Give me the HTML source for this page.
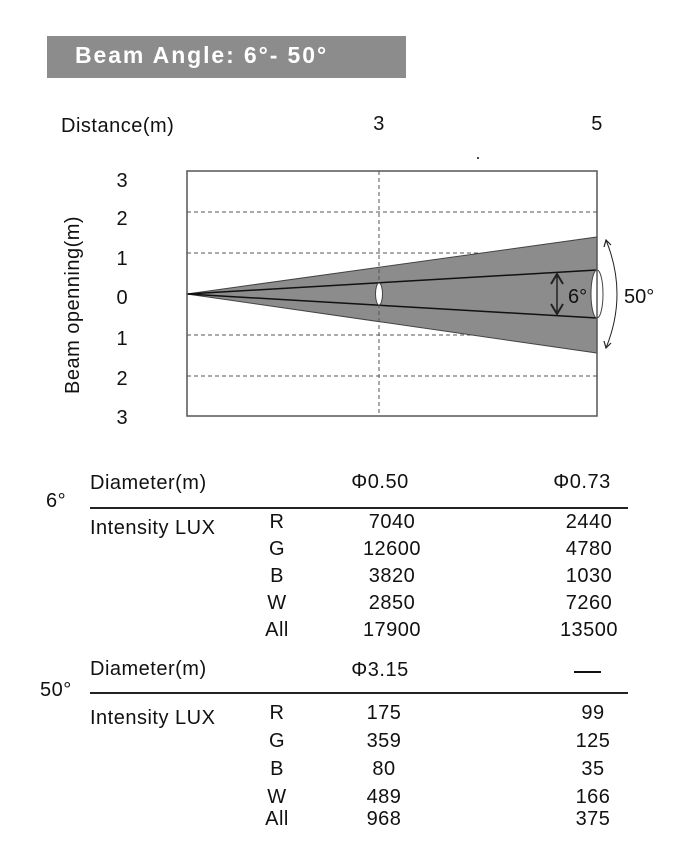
<!DOCTYPE html>
<html><head><style>
body{margin:0;width:681px;height:860px;background:#fff;font-family:"Liberation Sans",sans-serif;color:#111;position:relative;overflow:hidden}
.t{position:absolute;font-size:20px;letter-spacing:0.5px;white-space:nowrap}
.c{transform:translateX(-50%)}
</style></head><body>
<div style="position:absolute;left:47px;top:36px;width:359px;height:42px;background:#8c8c8c"></div>
<div class="t" style="left:75px;top:42px;color:#fff;font-weight:bold;font-size:23px;letter-spacing:1.9px">Beam Angle: 6°- 50°</div>
<div class="t" style="left:61px;top:115px">Distance(m)</div>
<div class="t c" style="left:379px;top:113px">3</div>
<div class="t c" style="left:597px;top:113px">5</div>
<div class="t" style="left:62px;top:394px;transform:rotate(-90deg);transform-origin:0 0">Beam openning(m)</div>
<svg style="position:absolute;left:0;top:0" width="681" height="440">
<g font-family="Liberation Sans" font-size="20" fill="#111" text-anchor="middle">
<text x="122" y="187">3</text><text x="122" y="225">2</text><text x="122" y="265">1</text><text x="122" y="304">0</text><text x="122" y="345">1</text><text x="122" y="385">2</text><text x="122" y="424">3</text>
</g>
<circle cx="478" cy="158" r="1" fill="#111"/>
<g stroke="#555" stroke-dasharray="4,3" stroke-width="1">
<line x1="187" y1="212" x2="597" y2="212"/><line x1="187" y1="253" x2="597" y2="253"/>
<line x1="187" y1="335" x2="597" y2="335"/><line x1="187" y1="376" x2="597" y2="376"/>
</g>
<polygon points="187,294 597,237 597,353" fill="#8c8c8c" stroke="#444" stroke-width="1"/>
<line x1="187" y1="294" x2="597" y2="270" stroke="#111" stroke-width="1.5"/>
<line x1="187" y1="294" x2="597" y2="318" stroke="#111" stroke-width="1.5"/>
<line x1="379" y1="171" x2="379" y2="416" stroke="#555" stroke-dasharray="4,3"/>
<ellipse cx="379" cy="294" rx="3.5" ry="11" fill="#fff" stroke="#444"/>
<ellipse cx="597" cy="294" rx="6" ry="24" fill="#fff" stroke="#444"/>
<rect x="187" y="171" width="410" height="245" fill="none" stroke="#555" stroke-width="1.5"/>
<line x1="557" y1="276" x2="557" y2="312" stroke="#222" stroke-width="1.5"/>
<path d="M551,284 L557,274 L563,284 M551,304 L557,314 L563,304" fill="none" stroke="#222" stroke-width="2"/>
<text x="568" y="303" font-family="Liberation Sans" font-size="20" fill="#111">6°</text>
<path d="M606,240 Q628,294 606,348" fill="none" stroke="#222" stroke-width="1"/>
<path d="M604,247 L606,240 L611,245 M604,341 L606,348 L611,343" fill="none" stroke="#222" stroke-width="1.2"/>
<text x="624" y="303" font-family="Liberation Sans" font-size="20" fill="#111">50°</text>
</svg>
<div style="position:absolute;left:90px;top:507px;width:538px;height:1.5px;background:#222"></div>
<div style="position:absolute;left:90px;top:692px;width:538px;height:1.5px;background:#222"></div>
<div class="t" style="left:46px;top:490px">6°</div>
<div class="t" style="left:90px;top:472px">Diameter(m)</div>
<div class="t c" style="left:380px;top:471px">Φ0.50</div>
<div class="t c" style="left:582px;top:471px">Φ0.73</div>
<div class="t" style="left:90px;top:517px">Intensity LUX</div>
<div class="t c" style="left:277px;top:511px">R</div><div class="t c" style="left:392px;top:511px">7040</div><div class="t c" style="left:589px;top:511px">2440</div>
<div class="t c" style="left:277px;top:538px">G</div><div class="t c" style="left:392px;top:538px">12600</div><div class="t c" style="left:589px;top:538px">4780</div>
<div class="t c" style="left:277px;top:565px">B</div><div class="t c" style="left:392px;top:565px">3820</div><div class="t c" style="left:589px;top:565px">1030</div>
<div class="t c" style="left:277px;top:592px">W</div><div class="t c" style="left:392px;top:592px">2850</div><div class="t c" style="left:589px;top:592px">7260</div>
<div class="t c" style="left:277px;top:619px">All</div><div class="t c" style="left:392px;top:619px">17900</div><div class="t c" style="left:589px;top:619px">13500</div>
<div class="t" style="left:40px;top:679px">50°</div>
<div class="t" style="left:90px;top:658px">Diameter(m)</div>
<div class="t c" style="left:380px;top:659px">Φ3.15</div>
<div style="position:absolute;left:574px;top:671px;width:27px;height:2px;background:#111"></div>
<div class="t" style="left:90px;top:707px">Intensity LUX</div>
<div class="t c" style="left:277px;top:702px">R</div><div class="t c" style="left:384px;top:702px">175</div><div class="t c" style="left:593px;top:702px">99</div>
<div class="t c" style="left:277px;top:730px">G</div><div class="t c" style="left:384px;top:730px">359</div><div class="t c" style="left:593px;top:730px">125</div>
<div class="t c" style="left:277px;top:758px">B</div><div class="t c" style="left:384px;top:758px">80</div><div class="t c" style="left:593px;top:758px">35</div>
<div class="t c" style="left:277px;top:786px">W</div><div class="t c" style="left:384px;top:786px">489</div><div class="t c" style="left:593px;top:786px">166</div>
<div class="t c" style="left:277px;top:808px">All</div><div class="t c" style="left:384px;top:808px">968</div><div class="t c" style="left:593px;top:808px">375</div>
</body></html>
